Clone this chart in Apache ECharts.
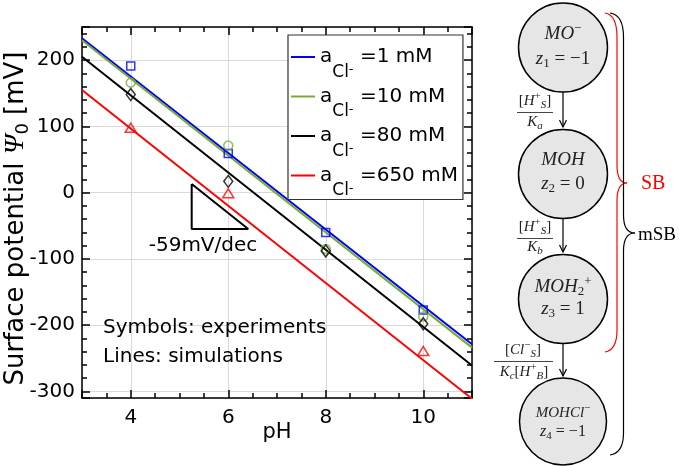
<!DOCTYPE html>
<html>
<head>
<meta charset="utf-8">
<script src="https://cdn.jsdelivr.net/npm/echarts@6/dist/echarts.min.js"></script>
<style>
html, body { margin: 0; padding: 0; background: #fff; }
#main { width: 679px; height: 466px; }
</style>
</head>
<body>
<div id="main"></div>
<script>
// simulations: value at both ends of the pH axis (mV)
var simNames = ['1 mM', '10 mM', '80 mM', '650 mM'];
var simColors = ['#0000ff', '#77ac30', '#000000', '#ff0000'];
var sim1 = [[3, 233], [11, -229]];
var sim10 = [[3, 230], [11, -234]];
var sim80 = [[3, 205], [11, -261]];
var sim650 = [[3, 155], [11, -311]];

// experiments (pH, mV)
var exp1 = [[4, 191], [6, 59], [8, -60], [10, -177]];
var exp10 = [[4, 166], [6, 71], [8, -85], [10, -187]];
var exp80 = [[4, 148], [6, 17], [8, -88], [10, -198]];
var exp650 = [[4, 98], [6, -1], [10, -239]];

// slope triangle
var slopeTri = [[5.25, 13], [5.25, -55], [6.41, -55], [5.25, 13]];

var SANS = 'DejaVu Sans';
var SERIF = 'Liberation Serif';

var chart = echarts.init(document.getElementById('main'));

function xAx(pos) {
  return {
    type: 'value', gridIndex: 0, position: pos, min: 3, max: 11,
    axisLine: { show: true, onZero: false, lineStyle: { color: '#000', width: 1.5 } },
    axisTick: { show: true, inside: true, length: 8, lineStyle: { color: '#000', width: 1.5 } },
    minorTick: { show: true, splitNumber: 4, length: 5, lineStyle: { color: '#000', width: 1.5 } },
    axisLabel: { show: pos == 'bottom', showMinLabel: false, showMaxLabel: false,
      fontFamily: SANS, fontSize: 20, color: '#000', margin: 10 },
    splitLine: { show: pos == 'bottom', lineStyle: { color: '#d9d9d9', width: 1 } }
  };
}
function yAx(pos) {
  return {
    type: 'value', gridIndex: 0, position: pos, min: -310, max: 250,
    axisLine: { show: true, onZero: false, lineStyle: { color: '#000', width: 1.5 } },
    axisTick: { show: true, inside: true, length: 8, lineStyle: { color: '#000', width: 1.5 } },
    minorTick: { show: true, splitNumber: 5, length: 5, lineStyle: { color: '#000', width: 1.5 } },
    axisLabel: { show: pos == 'left', showMinLabel: false, showMaxLabel: false,
      fontFamily: SANS, fontSize: 20, color: '#000', margin: 7 },
    splitLine: { show: pos == 'left', lineStyle: { color: '#d9d9d9', width: 1 } }
  };
}

var xBottom = xAx('bottom');
xBottom.name = 'pH';
xBottom.nameLocation = 'middle';
xBottom.nameGap = 24;
xBottom.nameMoveOverlap = false;
xBottom.nameTextStyle = { fontFamily: SANS, fontSize: 21, color: '#000' };

var yLeft = yAx('left');
yLeft.name = '{n|Surface potential }{psi|Ψ}{sub|0}{n| [mV]}';
yLeft.nameLocation = 'middle';
yLeft.nameGap = 50;
yLeft.nameMoveOverlap = false;
yLeft.nameTextStyle = {
  color: '#000',
  padding: [0, 12, 0, 0],
  rich: {
    n: { fontFamily: SANS, fontSize: 26, verticalAlign: 'middle' },
    psi: { fontFamily: SERIF, fontStyle: 'italic', fontSize: 28, verticalAlign: 'middle' },
    sub: { fontFamily: SANS, fontSize: 18, padding: [14, 0, 0, 0], verticalAlign: 'middle' }
  }
};

var sims = [sim1, sim10, sim80, sim650];
var exps = [exp1, exp10, exp80, exp650];
var symbols = ['rect', 'circle', 'diamond', 'triangle'];
var symSizes = [[8, 8], 9, [9, 12], [11, 9]];

var series = [];
for (var i = 0; i < 4; i++) {
  series.push({
    name: simNames[i], type: 'line', data: sims[i], showSymbol: false,
    color: simColors[i], lineStyle: { width: 2, color: simColors[i] }, z: 3, silent: true
  });
}
for (var j = 0; j < 4; j++) {
  series.push({
    name: 'exp' + j, type: 'scatter', data: exps[j], symbol: symbols[j], symbolSize: symSizes[j],
    itemStyle: { color: 'rgba(0,0,0,0)', borderColor: simColors[j], borderWidth: 1.5 }, z: 4, silent: true
  });
}
series.push({
  name: 'slope', type: 'line', data: slopeTri, showSymbol: false,
  lineStyle: { width: 2, color: '#000' }, z: 3, silent: true
});

function mathRich(s) {
  return {
    it: { fontFamily: SERIF, fontStyle: 'italic', fontSize: s, verticalAlign: 'middle' },
    rm: { fontFamily: SERIF, fontSize: s, verticalAlign: 'middle' },
    sb: { fontFamily: SERIF, fontStyle: 'italic', fontSize: Math.round(s * 0.7), padding: [Math.round(s * 0.55), 0, 0, 0], verticalAlign: 'middle' },
    sbr: { fontFamily: SERIF, fontSize: Math.round(s * 0.7), padding: [Math.round(s * 0.55), 0, 0, 0], verticalAlign: 'middle' },
    sp: { fontFamily: SERIF, fontSize: Math.round(s * 0.7), padding: [0, 0, Math.round(s * 0.6), 0], verticalAlign: 'middle' }
  };
}
function mtext(x, y, str, size, color, align) {
  return { type: 'text', x: x, y: y, z: 10,
    style: { text: str, fill: color || '#222', align: align || 'center', verticalAlign: 'middle', rich: mathRich(size) } };
}
function ptext(x, y, str, size, align) {
  return { type: 'text', x: x, y: y, z: 10,
    style: { text: str, fill: '#000', align: align || 'left', verticalAlign: 'middle', font: size + 'px "' + SANS + '"' } };
}
function circ(cy, r) {
  return { type: 'circle', z: 5, shape: { cx: 563, cy: cy, r: r || 44.5 }, style: { fill: '#e6e6e6', stroke: '#000', lineWidth: 1.5 } };
}
function seg(x1, y1, x2, y2, color) {
  return { type: 'line', z: 6, shape: { x1: x1, y1: y1, x2: x2, y2: y2 }, style: { stroke: color || '#000', lineWidth: 1.2 } };
}
function curve(x1, y1, cx, cy, x2, y2, color) {
  return { type: 'bezierCurve', z: 6, shape: { x1: x1, y1: y1, cpx1: cx, cpy1: cy, x2: x2, y2: y2 },
    style: { stroke: color, lineWidth: 1.2, fill: null } };
}
function arrow(y1, y2) {
  return [
    seg(563, y1, 563, y2),
    { type: 'polyline', z: 6, shape: { points: [[559.5, y2 - 7], [563, y2], [566.5, y2 - 7]] }, style: { stroke: '#000', lineWidth: 1.2, fill: null } }
  ];
}
function brace(x, xs, top, mid, bot, tip, color) {
  return [
    curve(xs, top, x, top + 2, x, top + 24, color),
    seg(x, top + 24, x, mid - 18, color),
    curve(x, mid - 18, x, mid, tip, mid, color),
    curve(tip, mid, x, mid, x, mid + 18, color),
    seg(x, mid + 18, x, bot - 22, color),
    curve(x, bot - 22, x, bot - 2, xs, bot, color)
  ];
}

var graphics = [
  ptext(203, 246, '-59mV/dec', 20, 'center'),
  ptext(103, 328, 'Symbols: experiments', 20),
  ptext(103, 357, 'Lines: simulations', 20),

  circ(47.5), circ(174), circ(299), circ(421.5, 43.5),
  mtext(563, 34, '{it|MO}{sp|−}', 19),
  mtext(563, 59, '{it|z}{sbr|1}{rm| = −1}', 19),
  mtext(563, 160, '{it|MOH}', 19),
  mtext(563, 184, '{it|z}{sbr|2}{rm| = 0}', 19),
  mtext(563, 287, '{it|MOH}{sbr|2}{sp|+}', 19),
  mtext(563, 309, '{it|z}{sbr|3}{rm| = 1}', 19),
  mtext(563, 413, '{it|MOHCl}{sp|−}', 15),
  mtext(563, 432, '{it|z}{sbr|4}{rm| = −1}', 16),

  mtext(535, 101, '{rm|[}{it|H}{sp|+}{sb|S}{rm|]}', 15),
  seg(517, 112.5, 553, 112.5, '#444'),
  mtext(535, 122, '{it|K}{sb|a}', 15),
  mtext(535, 227, '{rm|[}{it|H}{sp|+}{sb|S}{rm|]}', 15),
  seg(517, 238.5, 553, 238.5, '#444'),
  mtext(535, 247, '{it|K}{sb|b}', 15),
  mtext(523, 350, '{rm|[}{it|Cl}{sp|−}{sb|S}{rm|]}', 15),
  seg(494, 361.5, 553, 361.5, '#444'),
  mtext(524, 372, '{it|K}{sb|c}{rm|[}{it|H}{sp|+}{sb|B}{rm|]}', 15),

  mtext(641, 184, '{rm|SB}', 20, '#ff0000', 'left'),
  mtext(638, 235, '{rm|mSB}', 19, '#000', 'left')
];
graphics = graphics.concat(arrow(92, 127), arrow(218.5, 252), arrow(343.5, 376));
graphics = graphics.concat(brace(617, 605, 13, 183, 352, 627, '#ff0000'));
graphics = graphics.concat(brace(623.5, 610, 13, 233, 455, 635, '#000'));

var option = {
  animation: false,
  backgroundColor: '#fff',
  grid: { left: 82, top: 27, width: 390, height: 371, outerBoundsMode: 'none' },
  xAxis: [xBottom, xAx('top')],
  yAxis: [yLeft, yAx('right')],
  legend: {
    data: simNames, orient: 'vertical', left: 288, top: 35,
    padding: [12, 5, 0, 3], itemGap: 5.5, icon: 'rect', itemWidth: 24, itemHeight: 2,
    backgroundColor: '#fff', borderColor: '#333', borderWidth: 1.2, selectedMode: false,
    formatter: function (name) { return '{a|a}{sub|Cl}{sup|-}{a| =' + name + '}'; },
    textStyle: {
      color: '#000',
      rich: {
        a: { fontFamily: SANS, fontSize: 20, verticalAlign: 'middle' },
        sub: { fontFamily: SANS, fontSize: 17, padding: [31, 0, 0, 0], verticalAlign: 'middle' },
        sup: { fontFamily: SANS, fontSize: 13, padding: [26, 0, 0, 0], verticalAlign: 'middle' }
      }
    }
  },
  series: series,
  graphic: { elements: graphics }
};
chart.setOption(option);
</script>
</body>
</html>
